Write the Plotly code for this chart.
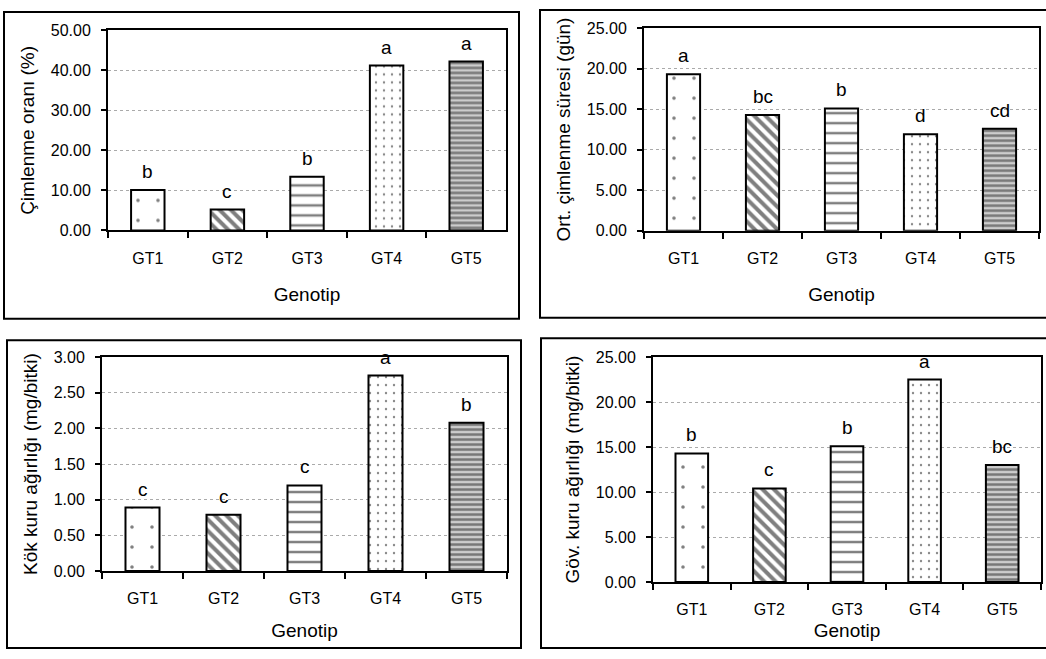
import plotly.graph_objects as go

W, H = 1046, 659

genotypes = ["GT1", "GT2", "GT3", "GT4", "GT5"]

germ_rate = [10.1, 5.2, 13.4, 41.2, 42.2]
germ_rate_letters = ["b", "c", "b", "a", "a"]

germ_time = [19.3, 14.3, 15.1, 11.9, 12.6]
germ_time_letters = ["a", "bc", "b", "d", "cd"]

root_dw = [0.89, 0.79, 1.20, 2.74, 2.08]
root_dw_letters = ["c", "c", "c", "a", "b"]

shoot_dw = [14.3, 10.4, 15.1, 22.5, 13.0]
shoot_dw_letters = ["b", "c", "b", "a", "bc"]

y_titles = ["Çimlenme oranı (%)", "Ort. çimlenme süresi (gün)",
            "Kök kuru ağırlığı (mg/bitki)", "Göv. kuru ağırlığı (mg/bitki)"]
y_ranges = [(0, 50, 10), (0, 25, 5), (0, 3, 0.5), (0, 25, 5)]
x_title = "Genotip"

panels = [
    (germ_rate, germ_rate_letters),
    (germ_time, germ_time_letters),
    (root_dw, root_dw_letters),
    (shoot_dw, shoot_dw_letters),
]

# plot-area pixel boxes (x0, x1, ytop, ybottom)
plot_px = [(108, 506, 23, 228.3), (644, 1039, 20.7, 228.7),
           (102, 507, 358.3, 578), (653, 1041, 358.3, 589.3)]
# outer frame pixel boxes
frame_px = [(4, 519, 4, 319), (540, 1052, 2, 318),
            (7, 521, 341, 657), (541, 1052, 339, 657)]
xtitle_std = [22, 22, 17, 6]

patterns = [
    dict(shape=".", size=20, solidity=0.025, fgcolor="#000", bgcolor="white"),
    dict(shape="\\", size=8, solidity=0.5, fgcolor="#000", bgcolor="white"),
    dict(shape="-", size=10, solidity=0.25, fgcolor="#000", bgcolor="white"),
    dict(shape=".", size=8, solidity=0.07, fgcolor="#111", bgcolor="white"),
    dict(shape="-", size=5, solidity=0.5, fgcolor="#222", bgcolor="#ccc"),
]

FONT = "Arial, Liberation Sans, sans-serif"
fig = go.Figure()
annotations = []
shapes = []

for i, (vals, letters) in enumerate(panels):
    n = "" if i == 0 else str(i + 1)
    xa, ya = "x" + n, "y" + n
    fig.add_trace(go.Bar(
        x=genotypes, y=vals, xaxis=xa, yaxis=ya, width=0.42,
        marker=dict(color="white", line=dict(color="black", width=2),
                    pattern=dict(shape=[p["shape"] for p in patterns],
                                 size=[p["size"] for p in patterns],
                                 solidity=[p["solidity"] for p in patterns],
                                 fgcolor=[p["fgcolor"] for p in patterns],
                                 bgcolor=[p["bgcolor"] for p in patterns],
                                 fillmode="overlay")),
        showlegend=False, hoverinfo="x+y"))
    for g, v, t in zip(genotypes, vals, letters):
        annotations.append(dict(x=g, y=v, xref=xa, yref=ya, text=t,
                                showarrow=False, yanchor="bottom", yshift=6,
                                font=dict(family=FONT, size=19, color="black")))
    x0, x1, yt, yb = plot_px[i]
    lo, hi, step = y_ranges[i]
    axis_common = dict(showline=True, linecolor="black", linewidth=2, mirror=True,
                       ticks="outside", tickcolor="black", tickwidth=1.5,
                       tickfont=dict(family=FONT, size=16, color="black"))
    fig.update_layout(**{
        ("xaxis" + n): dict(domain=[x0 / W, x1 / W], anchor=ya, type="category",
                            tickson="boundaries", ticklen=6, ticklabelstandoff=12,
                            title=dict(text=x_title, standoff=xtitle_std[i],
                                       font=dict(family=FONT, size=19, color="black")),
                            showgrid=False, **axis_common),
        ("yaxis" + n): dict(domain=[1 - yb / H, 1 - yt / H], anchor=xa,
                            range=[lo, hi], dtick=step, tick0=0, tickformat=".2f",
                            ticklen=5, ticklabelstandoff=7,
                            showgrid=True, gridcolor="#aaa", griddash="dot", gridwidth=1,
                            zeroline=False,
                            title=dict(text=y_titles[i], standoff=11,
                                       font=dict(family=FONT, size=19, color="black")),
                            **axis_common),
    })
    fx0, fx1, fy0, fy1 = frame_px[i]
    shapes.append(dict(type="rect", xref="paper", yref="paper",
                       x0=fx0 / W, x1=fx1 / W, y0=1 - fy1 / H, y1=1 - fy0 / H,
                       line=dict(color="black", width=2), fillcolor="rgba(0,0,0,0)"))

fig.update_layout(width=W, height=H, margin=dict(l=0, r=0, t=0, b=0),
                  plot_bgcolor="white", paper_bgcolor="white",
                  annotations=annotations, shapes=shapes, bargap=0.58,
                  font=dict(family=FONT, color="black"))
fig.write_html("out.html", config={"displayModeBar": False},
               post_script="document.body.style.margin='0';document.body.style.overflow='hidden';")
